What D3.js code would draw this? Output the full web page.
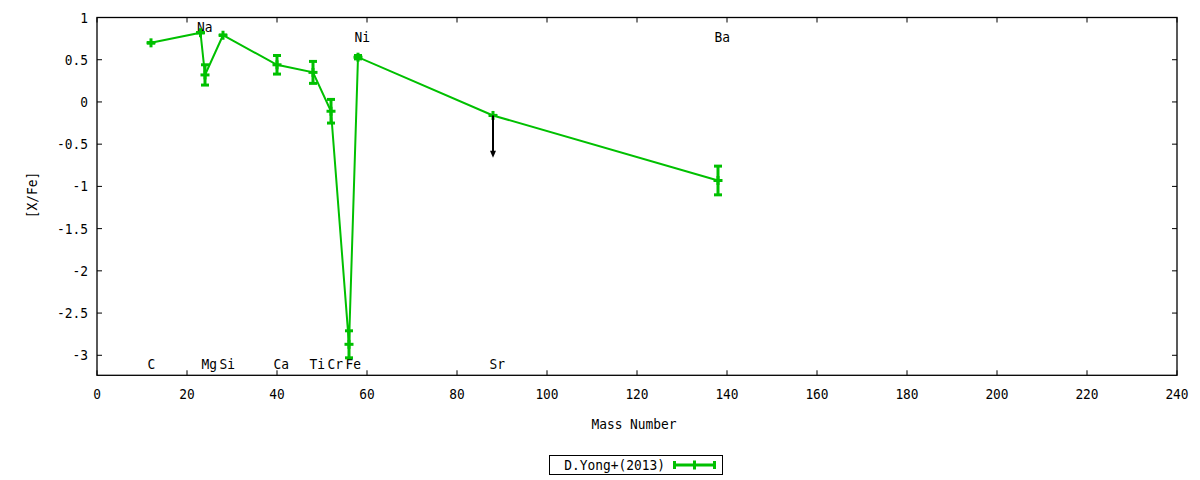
<!DOCTYPE html>
<html><head><meta charset="utf-8">
<script src="https://cdn.jsdelivr.net/npm/d3@7"></script>
<style>body{margin:0;background:#fff}svg{display:block}text{font-family:"DejaVu Sans Mono",monospace;font-size:14px;fill:#000}</style>
</head><body><svg id="c" width="1200" height="480"></svg>
<script>
const elements = ["C","Na","Mg","Si","Ca","Ti","Cr","Fe","Ni","Sr","Ba"];
const massNumbers = [12,23,24,28,40,48,52,56,58,88,138];
const xfeValues = [0.70,0.82,0.32,0.79,0.44,0.35,-0.11,-2.87,0.53,-0.16,-0.93];
const xfeErrors = [0,0,0.12,0,0.11,0.13,0.14,0.16,0.02,0,0.17];
const upperLimits = [{mass:88, from:-0.16, to:-0.66}];
const labelNames = ["C","Na","Mg","Si","Ca","Ti","Cr","Fe","Ni","Sr","Ba"];
const labelMass = [12,23,24,28,40,48,52,56,58,88,138];
const labelY = [-3.1,0.89,-3.1,-3.1,-3.1,-3.1,-3.1,-3.1,0.77,-3.1,0.77];
const xTicks = [0,20,40,60,80,100,120,140,160,180,200,220,240];
const yTicks = [-3,-2.5,-2,-1.5,-1,-0.5,0,0.5,1];
const seriesName = "D.Yong+(2013)";

const svg = d3.select("#c");
const L=97, R=1177, T=17.5, B=375.3;
const x = d3.scaleLinear().domain([0,240]).range([L,R]);
const y = d3.scaleLinear().domain([-3.237,1]).range([B,T]);
const green = "#00c000";
const tl = 5;
const SX = 0.92;

function label(parent, px, py, str, anchor, rot){
  const t = parent.append("text")
    .attr("transform", `translate(${px},${py})` + (rot?` rotate(${rot})`:"") + ` scale(${SX},1)`)
    .attr("dy","0.36em").attr("text-anchor",anchor).text(str);
  return t;
}

// frame
svg.append("rect").attr("x",L).attr("y",T).attr("width",R-L).attr("height",B-T)
  .attr("fill","none").attr("stroke","#000").attr("stroke-width",1.3);

const gx = svg.append("g");
xTicks.forEach(v=>{
  const px = x(v);
  gx.append("line").attr("x1",px).attr("x2",px).attr("y1",B).attr("y2",B-tl).attr("stroke","#000");
  gx.append("line").attr("x1",px).attr("x2",px).attr("y1",T).attr("y2",T+tl).attr("stroke","#000");
  label(gx, px, 394, d3.format("d")(v), "middle");
});
const gy = svg.append("g");
yTicks.forEach(v=>{
  const py = y(v);
  gy.append("line").attr("x1",L).attr("x2",L+tl).attr("y1",py).attr("y2",py).attr("stroke","#000");
  gy.append("line").attr("x1",R).attr("x2",R-tl).attr("y1",py).attr("y2",py).attr("stroke","#000");
  label(gy, 88, py, String(v), "end");
});

label(svg, 634, 424, "Mass Number", "middle");
label(svg, 32, 195, "[X/Fe]", "middle", -90);

labelNames.forEach((n,i)=>{
  label(svg, x(labelMass[i])-3.5, y(labelY[i]), n, "start");
});

const pts = massNumbers.map((m,i)=>({m, v:xfeValues[i], e:xfeErrors[i]}));
svg.append("path").datum(pts).attr("fill","none").attr("stroke",green).attr("stroke-width",2)
  .attr("d", d3.line().x(d=>x(d.m)).y(d=>y(d.v)));

const ge = svg.append("g").attr("stroke",green).attr("stroke-width",3);
pts.forEach(d=>{
  const px=x(d.m), yt=y(d.v+d.e), yb=y(d.v-d.e), pc=y(d.v);
  ge.append("line").attr("x1",px).attr("x2",px).attr("y1",yt).attr("y2",yb);
  ge.append("line").attr("x1",px-4).attr("x2",px+4).attr("y1",yt).attr("y2",yt);
  ge.append("line").attr("x1",px-4).attr("x2",px+4).attr("y1",yb).attr("y2",yb);
  ge.append("line").attr("x1",px-4.5).attr("x2",px+4.5).attr("y1",pc).attr("y2",pc);
  ge.append("line").attr("x1",px).attr("x2",px).attr("y1",pc-4.5).attr("y2",pc+4.5);
});

upperLimits.forEach(u=>{
  const px=x(u.mass), y1=y(u.from), y2=y(u.to);
  svg.append("line").attr("x1",px).attr("x2",px).attr("y1",y1).attr("y2",y2-6)
    .attr("stroke","#000").attr("stroke-width",2);
  svg.append("path").attr("d",`M${px-3},${y2-7}L${px+3},${y2-7}L${px},${y2}Z`).attr("fill","#000");
});

svg.append("rect").attr("x",549.5).attr("y",455.5).attr("width",173).attr("height",19)
  .attr("fill","none").attr("stroke","#000").attr("stroke-width",1);
label(svg, 665, 465, seriesName, "end");
const lg = svg.append("g").attr("stroke",green).attr("stroke-width",3);
lg.append("line").attr("x1",673).attr("x2",716).attr("y1",465).attr("y2",465);
lg.append("line").attr("x1",674.5).attr("x2",674.5).attr("y1",461).attr("y2",469);
lg.append("line").attr("x1",714.5).attr("x2",714.5).attr("y1",461).attr("y2",469);
lg.append("line").attr("x1",694.5).attr("x2",694.5).attr("y1",460.5).attr("y2",469.5);
</script></body></html>
